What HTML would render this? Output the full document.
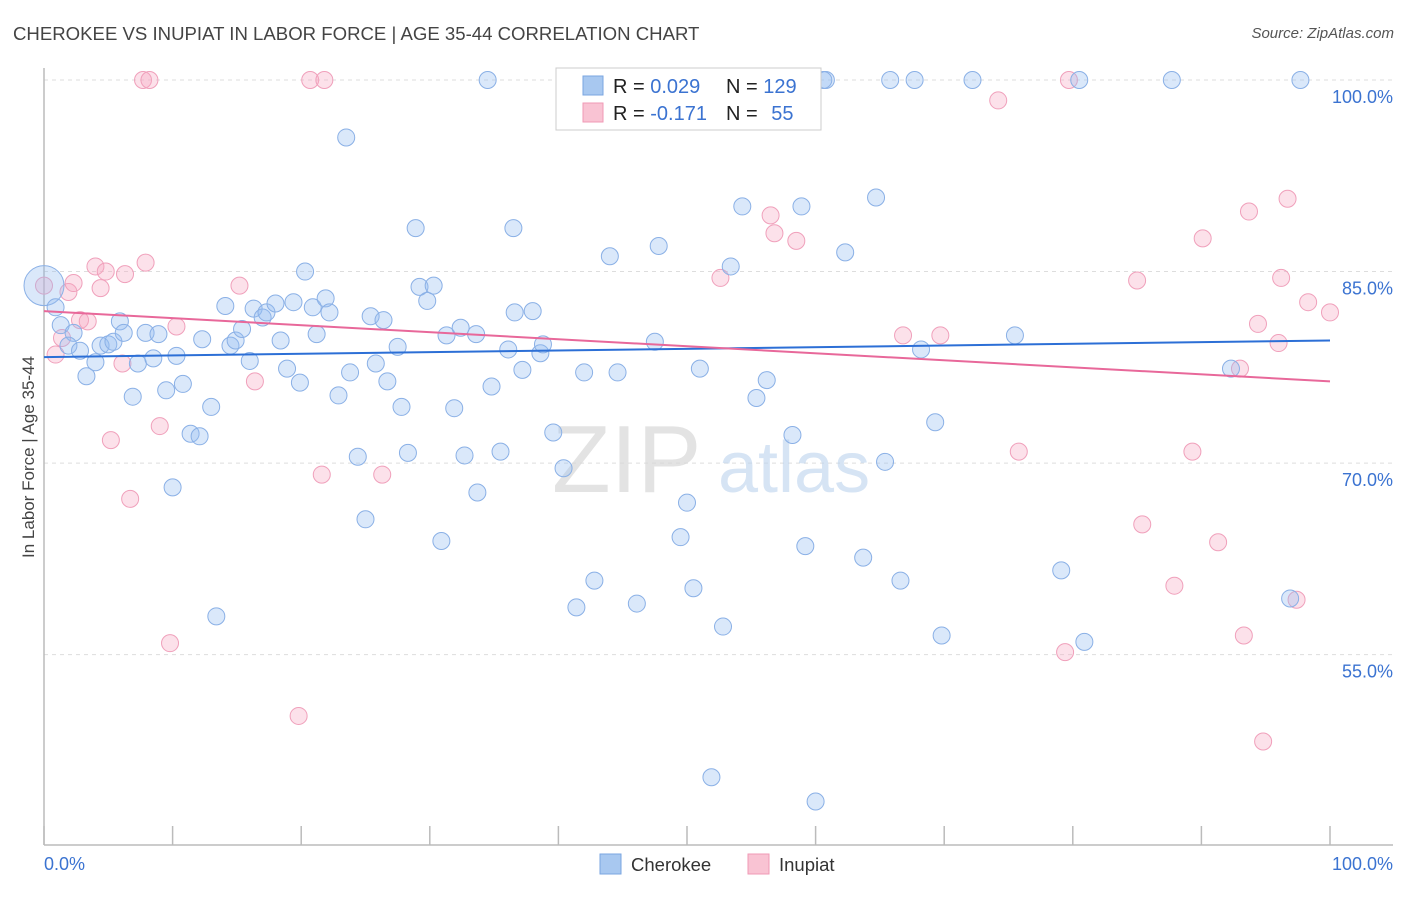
<!DOCTYPE html>
<html><head><meta charset="utf-8"><style>
body{margin:0;background:#fff;font-family:"Liberation Sans",sans-serif}
svg text{font-family:"Liberation Sans",sans-serif}
</style></head><body>
<svg id="chart" width="1406" height="892" viewBox="0 0 1406 892" xmlns="http://www.w3.org/2000/svg">
<text x="13" y="40" font-size="18.6" fill="#444">CHEROKEE VS INUPIAT IN LABOR FORCE | AGE 35-44 CORRELATION CHART</text>
<text x="1394" y="38" font-size="15" fill="#555" text-anchor="end" font-style="italic">Source: ZipAtlas.com</text>
<g id="grid"></g>
<g>
<text x="552" y="492" font-size="96" fill="#d8d8d8" font-family="Liberation Serif" opacity="0.7">ZIP</text>
<text x="718" y="492" font-size="72" fill="#bcd3ee" opacity="0.6">atlas</text>
</g>
<g id="axes"></g>
<g id="pts-pink"></g>
<g id="pts-blue"></g>
<g id="trends"></g>
<text transform="translate(34,457) rotate(-90)" font-size="17" fill="#444" text-anchor="middle">In Labor Force | Age 35-44</text>
<g>
<rect x="556" y="68" width="265" height="62" fill="#fff" stroke="#ccc"/>
<rect x="583" y="76" width="20" height="19" fill="#a8c8f0" stroke="#7aa6e0"/>
<rect x="583" y="103" width="20" height="19" fill="#f9c3d3" stroke="#f09ab6"/>
<text x="613" y="93" font-size="20" fill="#222">R = <tspan fill="#3b73d1">0.029</tspan></text>
<text x="726" y="93" font-size="20" fill="#222">N = <tspan fill="#3b73d1">129</tspan></text>
<text x="613" y="120" font-size="20" fill="#222">R = <tspan fill="#3b73d1">-0.171</tspan></text>
<text x="726" y="120" font-size="20" fill="#222">N = <tspan fill="#3b73d1" dx="8">55</tspan></text>
</g>
<g>
<rect x="600" y="854" width="21" height="20" fill="#a8c8f0" stroke="#7aa6e0"/>
<text x="631" y="871" font-size="18.5" fill="#333">Cherokee</text>
<rect x="748" y="854" width="21" height="20" fill="#f9c3d3" stroke="#f09ab6"/>
<text x="779" y="871" font-size="18.5" fill="#333">Inupiat</text>
</g>
</svg>
<script>
const blueX=[0.0,0.9,1.3,2.3,1.9,2.8,3.3,4.0,4.4,5.0,5.4,5.9,6.2,6.9,7.3,7.9,8.5,8.9,9.5,10.0,10.3,10.8,11.4,12.1,12.3,13.0,13.4,14.1,14.5,14.9,15.4,16.0,16.3,17.0,17.3,18.0,18.4,18.9,19.4,19.9,20.3,20.9,21.2,21.9,22.2,22.9,23.5,23.8,24.4,25.0,25.4,25.8,26.4,26.7,27.5,27.8,28.3,28.9,29.2,29.8,30.3,30.9,31.3,31.9,32.4,32.7,33.6,33.7,34.5,34.8,35.5,36.1,36.5,36.6,37.2,38.0,38.6,38.8,39.6,40.4,41.4,42.0,42.8,44.0,44.6,46.1,47.5,47.8,49.5,50.0,50.5,51.0,51.9,52.8,53.4,54.3,55.4,56.2,58.2,58.9,59.2,60.0,60.8,62.3,63.7,64.7,65.4,65.8,66.6,67.7,68.2,69.3,69.8,72.2,75.5,79.1,80.5,80.9,87.7,92.3,96.9,97.7,42.5,44.0,52.4,53.9,60.6];
const blueY=[83.9,82.2,80.8,80.2,79.2,78.8,76.8,77.9,79.2,79.3,79.5,81.1,80.2,75.2,77.8,80.2,78.2,80.1,75.7,68.1,78.4,76.2,72.3,72.1,79.7,74.4,58.0,82.3,79.2,79.6,80.5,78.0,82.1,81.4,81.8,82.5,79.6,77.4,82.6,76.3,85.0,82.2,80.1,82.9,81.8,75.3,95.5,77.1,70.5,65.6,81.5,77.8,81.2,76.4,79.1,74.4,70.8,88.4,83.8,82.7,83.9,63.9,80.0,74.3,80.6,70.6,80.1,67.7,100,76.0,70.9,78.9,88.4,81.8,77.3,81.9,78.6,79.3,72.4,69.6,58.7,77.1,60.8,86.2,77.1,59.0,79.5,87.0,64.2,66.9,60.2,77.4,45.4,57.2,85.4,90.1,75.1,76.5,72.2,90.1,63.5,43.5,100,86.5,62.6,90.8,70.1,100,60.8,100,78.9,73.2,56.5,100,80.0,61.6,100,56.0,100,77.4,59.4,100,100,100,100,100,100];
const pinkX=[0.0,0.9,1.4,1.9,2.3,2.8,3.4,4.0,4.4,4.8,5.2,6.1,6.3,6.7,7.7,7.9,8.2,9.0,9.8,10.3,15.2,16.4,19.8,20.7,21.6,21.8,26.3,52.6,56.5,56.8,58.5,66.8,69.7,74.2,75.8,79.4,79.7,85.0,85.4,87.9,89.3,90.1,91.3,93.0,93.3,93.7,94.4,94.8,96.0,96.2,96.7,97.4,98.3,100];
const pinkY=[83.9,78.5,79.8,83.4,84.1,81.2,81.1,85.4,83.7,85.0,71.8,77.8,84.8,67.2,100,85.7,100,72.9,55.9,80.7,83.9,76.4,50.2,100,69.1,100,69.1,84.5,89.4,88.0,87.4,80.0,80.0,98.4,70.9,55.2,100,84.3,65.2,60.4,70.9,87.6,63.8,77.4,56.5,89.7,80.9,48.2,79.4,84.5,90.7,59.3,82.6,81.8];
const trendBlue=[78.3,79.6];
const trendPink=[81.9,76.4];
const yTicks=[100,85,70,55];
const yTickLabels=["100.0%","85.0%","70.0%","55.0%"];
const xTicks=[0,10,20,30,40,50,60,70,80,90,100];

const NS="http://www.w3.org/2000/svg";
const X0=44,X1=1330,Ytop=80,PX=12.77;
const sx=v=>X0+(X1-X0)*v/100;
const sy=v=>Ytop+(100-v)*PX;
function mk(tag,attrs,parent){const e=document.createElementNS(NS,tag);for(const k in attrs)e.setAttribute(k,attrs[k]);parent.appendChild(e);return e;}
const grid=document.getElementById('grid'),axes=document.getElementById('axes');
yTicks.forEach((t,i)=>{
  const l=mk('line',{x1:X0,x2:1393,y1:sy(t),y2:sy(t),stroke:'#ddd','stroke-dasharray':'4,4'},grid);
  
  
  const tx=mk('text',{x:1393,y:sy(t)+23,'font-size':18,fill:'#3b73d1','text-anchor':'end'},axes);
  tx.textContent=yTickLabels[i];
  
  
});
const ax=mk('line',{x1:X0,x2:X0,y1:68,y2:845,stroke:'#bbb','stroke-width':1.5},axes);


const bx=mk('line',{x1:X0,x2:1393,y1:845,y2:845,stroke:'#bbb','stroke-width':1.5},axes);


xTicks.forEach(t=>{const l=mk('line',{x1:sx(t),x2:sx(t),y1:826,y2:845,stroke:'#bbb','stroke-width':1.5},axes);
  
  });
const xl0=mk('text',{x:44,y:870,'font-size':18,fill:'#3b73d1'},axes);xl0.textContent='0.0%';


const xl1=mk('text',{x:1393,y:870,'font-size':18,fill:'#3b73d1','text-anchor':'end'},axes);xl1.textContent='100.0%';



const gp=document.getElementById('pts-pink');
pinkX.forEach((x,i)=>{const c=mk('circle',{cx:sx(x),cy:sy(pinkY[i]),r:8.5,fill:'rgba(247,170,195,0.35)',stroke:'#f0a0bb','stroke-width':1},gp);
  
  });
const gb=document.getElementById('pts-blue');
blueX.forEach((x,i)=>{const c=mk('circle',{cx:sx(x),cy:sy(blueY[i]),r:i===0?20:8.5,fill:'rgba(150,190,240,0.35)',stroke:'#8ab0e6','stroke-width':1},gb);
  
  });
const tg=document.getElementById('trends');
const tb=mk('line',{x1:sx(0),y1:sy(trendBlue[0]),x2:sx(100),y2:sy(trendBlue[1]),stroke:'#2c6fd6','stroke-width':2},tg);


const tp=mk('line',{x1:sx(0),y1:sy(trendPink[0]),x2:sx(100),y2:sy(trendPink[1]),stroke:'#e8689a','stroke-width':2},tg);


</script>
</body></html>
